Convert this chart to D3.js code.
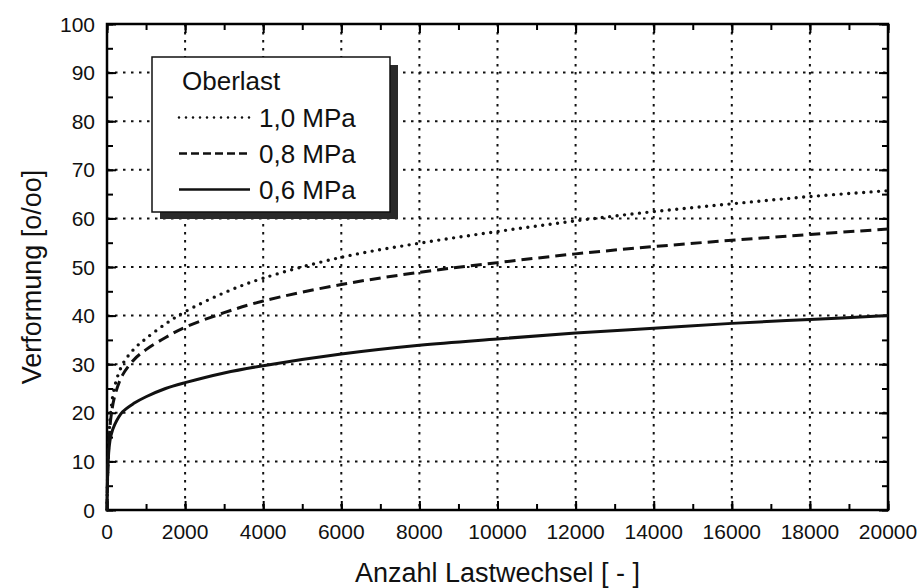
<!DOCTYPE html>
<html>
<head>
<meta charset="utf-8">
<script src="https://cdn.jsdelivr.net/npm/d3@7"></script>
<style>
  body { margin: 0; background: #fff; }
  svg { display: block; font-family: "Liberation Sans", Arial, sans-serif; }
</style>
</head>
<body>
<svg id="chart" width="923" height="588"></svg>
<script>
// Lastwechsel (x) and Verformung in o/oo for each Oberlast
const cycles = [0, 20, 50, 100, 200, 400, 700, 1000, 1500, 2000, 3000, 4000, 6000, 8000, 10000, 12000, 14000, 16000, 18000, 20000];
const load10 = [0, 9, 15, 20.5, 25.5, 30, 33.2, 35.3, 38.3, 40.8, 44.7, 47.7, 52.0, 54.9, 57.3, 59.5, 61.4, 63.0, 64.5, 65.7];
const load08 = [0, 8, 14, 19, 23.5, 27.8, 31.0, 33.0, 35.5, 37.6, 40.6, 43.0, 46.4, 48.9, 50.9, 52.7, 54.2, 55.5, 56.7, 57.8];
const load06 = [0, 8, 12.5, 15.3, 17.6, 20.2, 22.0, 23.3, 25.0, 26.2, 28.2, 29.7, 32.1, 33.9, 35.2, 36.4, 37.4, 38.4, 39.2, 40.0];

const seriesNames = ["1,0 MPa", "0,8 MPa", "0,6 MPa"];
const xTicks = [0, 2000, 4000, 6000, 8000, 10000, 12000, 14000, 16000, 18000, 20000];
const yTicks = [0, 10, 20, 30, 40, 50, 60, 70, 80, 90, 100];

const svg = d3.select("#chart");

const plotLeft = 107, plotRight = 888, plotTop = 24, plotBottom = 510;

const x = d3.scaleLinear().domain([0, 20000]).range([plotLeft, plotRight]);
const y = d3.scaleLinear().domain([0, 100]).range([plotBottom, plotTop]);

// dotted grid
const grid = svg.append("g")
    .attr("stroke", "#111")
    .attr("stroke-width", 2)
    .attr("stroke-dasharray", "2.5,5.5");

grid.selectAll(".gx")
    .data(xTicks.slice(1, -1))
    .enter().append("line")
    .attr("x1", d => x(d)).attr("x2", d => x(d))
    .attr("y1", plotTop).attr("y2", plotBottom);

grid.selectAll(".gy")
    .data(yTicks.slice(1, -1))
    .enter().append("line")
    .attr("x1", plotLeft).attr("x2", plotRight)
    .attr("y1", d => y(d)).attr("y2", d => y(d));

// axes with inward ticks on all four sides
const minorX = d3.range(0, 20001, 1000);
const minorY = d3.range(0, 101, 5);

const addAxis = (axis, transform) => {
  const g = svg.append("g")
      .attr("transform", transform)
      .call(axis);
  g.select(".domain").remove();
  g.selectAll(".tick line").attr("stroke", "#000").attr("stroke-width", 2);
  return g;
};

addAxis(d3.axisBottom(x).tickValues(minorX).tickSize(-6).tickFormat(""), `translate(0,${plotBottom})`);
addAxis(d3.axisTop(x).tickValues(minorX).tickSize(-6).tickFormat(""), `translate(0,${plotTop})`);
addAxis(d3.axisLeft(y).tickValues(minorY).tickSize(-6).tickFormat(""), `translate(${plotLeft},0)`);
addAxis(d3.axisRight(y).tickValues(minorY).tickSize(-6).tickFormat(""), `translate(${plotRight},0)`);
addAxis(d3.axisBottom(x).tickValues(xTicks).tickSize(-9).tickFormat(""), `translate(0,${plotBottom})`);
addAxis(d3.axisTop(x).tickValues(xTicks).tickSize(-9).tickFormat(""), `translate(0,${plotTop})`);
addAxis(d3.axisLeft(y).tickValues(yTicks).tickSize(-9).tickFormat(""), `translate(${plotLeft},0)`);
addAxis(d3.axisRight(y).tickValues(yTicks).tickSize(-9).tickFormat(""), `translate(${plotRight},0)`);

// tick labels
svg.append("g").selectAll("text")
    .data(xTicks)
    .enter().append("text")
    .attr("x", d => x(d))
    .attr("y", 539)
    .attr("text-anchor", "middle")
    .attr("font-size", 21)
    .attr("fill", "#111")
    .text(d => d);

svg.append("g").selectAll("text")
    .data(yTicks)
    .enter().append("text")
    .attr("x", 95)
    .attr("y", d => y(d) + 7.5)
    .attr("text-anchor", "end")
    .attr("font-size", 21)
    .attr("fill", "#111")
    .text(d => d);

// frame
svg.append("rect")
    .attr("x", plotLeft).attr("y", plotTop)
    .attr("width", plotRight - plotLeft).attr("height", plotBottom - plotTop)
    .attr("fill", "none")
    .attr("stroke", "#000")
    .attr("stroke-width", 2.5);

// axis titles
svg.append("text")
    .attr("x", (plotLeft + plotRight) / 2)
    .attr("y", 582)
    .attr("text-anchor", "middle")
    .attr("font-size", 27)
    .attr("fill", "#111")
    .text("Anzahl Lastwechsel [ - ]");

svg.append("text")
    .attr("transform", `translate(41,${(plotTop + plotBottom) / 2 + 10}) rotate(-90)`)
    .attr("text-anchor", "middle")
    .attr("font-size", 27)
    .attr("fill", "#111")
    .text("Verformung [o/oo]");

// curves
const styles = [
  { values: load10, dash: "0,7.5", width: 3.4, cap: "round" },
  { values: load08, dash: "11,6", width: 3, cap: "butt" },
  { values: load06, dash: null, width: 3, cap: "butt" }
];

const line = d3.line()
    .x(d => x(d[0]))
    .y(d => y(d[1]))
    .curve(d3.curveCatmullRom.alpha(0.5));

svg.append("g").selectAll("path")
    .data(styles)
    .enter().append("path")
    .attr("d", s => line(cycles.map((c, i) => [c, s.values[i]])))
    .attr("fill", "none")
    .attr("stroke", "#111")
    .attr("stroke-width", s => s.width)
    .attr("stroke-linecap", s => s.cap)
    .attr("stroke-dasharray", s => s.dash);

// legend with shadow
const legend = svg.append("g");
legend.append("rect")
    .attr("x", 160).attr("y", 65)
    .attr("width", 238).attr("height", 154)
    .attr("fill", "#2a2a2a");
legend.append("rect")
    .attr("x", 152).attr("y", 57)
    .attr("width", 238).attr("height", 155)
    .attr("fill", "#fff")
    .attr("stroke", "#111")
    .attr("stroke-width", 1.5);

legend.append("text")
    .attr("x", 182).attr("y", 90)
    .attr("font-size", 26)
    .attr("fill", "#111")
    .text("Oberlast");

const legendDash = ["0,7", "8,4", null];
const legendRows = legend.selectAll(".row")
    .data(seriesNames)
    .enter().append("g")
    .attr("transform", (d, i) => `translate(0,${126.5 + i * 36})`);

legendRows.append("line")
    .attr("x1", 179).attr("x2", 250)
    .attr("y1", -9).attr("y2", -9)
    .attr("stroke", "#111")
    .attr("stroke-width", 2.6)
    .attr("stroke-linecap", (d, i) => i === 0 ? "round" : "butt")
    .attr("stroke-dasharray", (d, i) => legendDash[i]);

legendRows.append("text")
    .attr("x", 259)
    .attr("font-size", 26)
    .attr("fill", "#111")
    .text(d => d);
</script>
</body>
</html>
